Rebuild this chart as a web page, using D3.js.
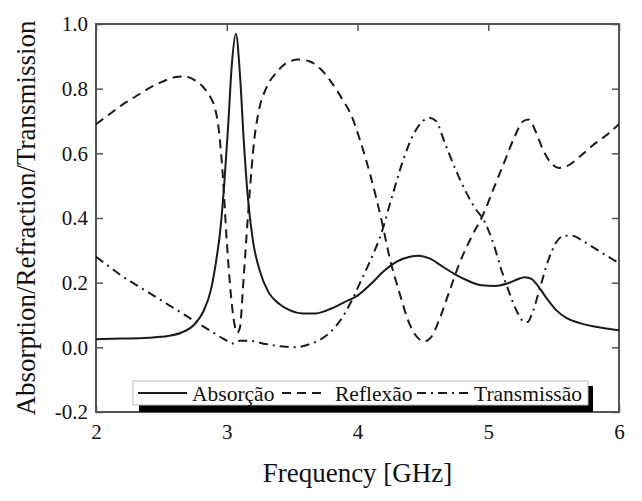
<!DOCTYPE html>
<html><head><meta charset="utf-8">
<script src="https://cdn.jsdelivr.net/npm/d3@7"></script>
<style>html,body{margin:0;padding:0;background:#fff}</style>
</head><body>
<svg id="chart" width="642" height="501"></svg>
<script>
const freqA = [2.0,2.2,2.4,2.55,2.65,2.75,2.82,2.88,2.92,2.95,2.98,3.01,3.04,3.07,3.10,3.13,3.16,3.20,3.25,3.32,3.40,3.48,3.58,3.68,3.80,3.90,4.00,4.10,4.20,4.30,4.40,4.47,4.55,4.65,4.75,4.85,4.95,5.05,5.15,5.22,5.28,5.33,5.38,5.45,5.52,5.60,5.70,5.80,5.90,6.00];
const absorcao = [0.025,0.027,0.03,0.035,0.045,0.07,0.11,0.18,0.27,0.36,0.50,0.68,0.88,0.97,0.85,0.64,0.47,0.33,0.24,0.17,0.135,0.115,0.105,0.105,0.12,0.14,0.16,0.195,0.235,0.265,0.28,0.283,0.275,0.25,0.225,0.205,0.192,0.19,0.198,0.21,0.217,0.212,0.19,0.15,0.115,0.09,0.075,0.065,0.058,0.053];

const freqR = [2.0,2.1,2.2,2.3,2.4,2.5,2.6,2.68,2.76,2.83,2.88,2.91,2.94,2.97,3.00,3.03,3.06,3.08,3.10,3.13,3.17,3.21,3.25,3.30,3.38,3.46,3.55,3.63,3.72,3.80,3.88,3.95,4.02,4.10,4.18,4.25,4.32,4.40,4.46,4.51,4.56,4.62,4.70,4.78,4.87,4.96,5.05,5.13,5.20,5.27,5.31,5.36,5.42,5.48,5.54,5.60,5.70,5.80,5.90,6.00];
const reflexao = [0.69,0.72,0.75,0.775,0.80,0.82,0.835,0.838,0.825,0.80,0.77,0.74,0.67,0.53,0.33,0.17,0.07,0.045,0.06,0.22,0.45,0.64,0.74,0.80,0.85,0.88,0.89,0.885,0.86,0.82,0.77,0.72,0.64,0.53,0.40,0.27,0.17,0.07,0.03,0.018,0.03,0.08,0.17,0.26,0.34,0.41,0.50,0.58,0.65,0.70,0.705,0.67,0.61,0.57,0.555,0.56,0.59,0.625,0.655,0.69];

const freqT = [2.0,2.1,2.2,2.3,2.4,2.5,2.6,2.7,2.8,2.9,2.98,3.05,3.10,3.18,3.30,3.42,3.52,3.62,3.72,3.80,3.88,3.95,4.02,4.10,4.18,4.26,4.35,4.43,4.50,4.55,4.60,4.67,4.75,4.83,4.90,4.97,5.04,5.10,5.16,5.22,5.27,5.30,5.34,5.40,5.46,5.52,5.58,5.64,5.72,5.80,5.90,6.00];
const transmissao = [0.28,0.25,0.22,0.195,0.17,0.145,0.12,0.095,0.07,0.045,0.025,0.012,0.02,0.02,0.01,0.003,0.0,0.008,0.025,0.05,0.09,0.14,0.20,0.27,0.35,0.46,0.58,0.66,0.70,0.71,0.70,0.63,0.55,0.48,0.43,0.39,0.32,0.24,0.17,0.11,0.08,0.078,0.11,0.19,0.27,0.325,0.345,0.345,0.33,0.31,0.285,0.26];

const xTicks = [2,3,4,5,6];
const yTicks = [-0.2,0.0,0.2,0.4,0.6,0.8,1.0];
const yTickLabels = ["-0.2","0.0","0.2","0.4","0.6","0.8","1.0"];
const legendLabels = ["Absorção","Reflexão","Transmissão"];

const svg = d3.select("#chart");
const L = 96, R = 619, T = 24, B = 412;
const x = d3.scaleLinear().domain([2,6]).range([L,R]);
const y = d3.scaleLinear().domain([-0.2,1.0]).range([B,T]);
const font = "'Liberation Serif','Times New Roman',serif";

svg.append("defs").append("clipPath").attr("id","clip")
  .append("rect").attr("x",L).attr("y",T).attr("width",R-L).attr("height",B-T);

const tickLen = 7;
const axisColor = "#555";
function styleAxis(g){
  g.attr("font-family",font);
  g.select(".domain").remove();
  g.selectAll(".tick line").attr("stroke",axisColor).attr("stroke-width",1.5);
  g.selectAll(".tick text").attr("font-family",font).attr("font-size",21).attr("fill","#111");
}
svg.append("g").attr("transform",`translate(0,${B})`)
  .call(d3.axisBottom(x).tickValues(xTicks).tickFormat(d3.format("d")).tickSizeInner(-tickLen).tickSizeOuter(0).tickPadding(12))
  .call(styleAxis);
svg.append("g").attr("transform",`translate(0,${T})`)
  .call(d3.axisTop(x).tickValues(xTicks).tickFormat("").tickSizeInner(-tickLen).tickSizeOuter(0))
  .call(styleAxis);
svg.append("g").attr("transform",`translate(${L},0)`)
  .call(d3.axisLeft(y).tickValues(yTicks).tickFormat((d,i)=>yTickLabels[i]).tickSizeInner(-tickLen).tickSizeOuter(0).tickPadding(8))
  .call(styleAxis);
svg.append("g").attr("transform",`translate(${R},0)`)
  .call(d3.axisRight(y).tickValues(yTicks).tickFormat("").tickSizeInner(-tickLen).tickSizeOuter(0))
  .call(styleAxis);

svg.append("rect").attr("x",L).attr("y",T).attr("width",R-L).attr("height",B-T)
  .attr("fill","none").attr("stroke",axisColor).attr("stroke-width",2);

const series = [
  {f:freqA, v:absorcao, dash:null},
  {f:freqR, v:reflexao, dash:"9,6"},
  {f:freqT, v:transmissao, dash:"9,5,2,5"}
];
const line = d3.line().x(d=>x(d[0])).y(d=>y(d[1])).curve(d3.curveMonotoneX);
const cg = svg.append("g").attr("clip-path","url(#clip)");
series.forEach(s=>{
  cg.append("path").datum(s.f.map((f,i)=>[f,s.v[i]]))
    .attr("d",line).attr("fill","none").attr("stroke","#1a1a1a").attr("stroke-width",2)
    .attr("stroke-dasharray",s.dash);
});

const lg = svg.append("g");
lg.append("rect").attr("x",139).attr("y",386).attr("width",454).attr("height",26).attr("fill","#000");
lg.append("rect").attr("x",133).attr("y",381).attr("width",455).attr("height",24)
  .attr("fill","#fff").attr("stroke","#bbb").attr("stroke-width",1);
const items = [
  {x1:138,x2:187,tx:192,dash:null},
  {x1:282,x2:327,tx:335,dash:"9,6"},
  {x1:417,x2:470,tx:474,dash:"9,5,2,5"}
];
items.forEach((it,i)=>{
  lg.append("line").attr("x1",it.x1).attr("x2",it.x2).attr("y1",393).attr("y2",393)
    .attr("stroke","#1a1a1a").attr("stroke-width",2).attr("stroke-dasharray",it.dash);
  lg.append("text").attr("x",it.tx).attr("y",400.5).attr("font-family",font).attr("font-size",21.5)
    .attr("fill","#111").text(legendLabels[i]);
});

svg.append("text").attr("x",(L+R)/2).attr("y",482).attr("text-anchor","middle")
  .attr("font-family",font).attr("font-size",27).attr("fill","#111").text("Frequency [GHz]");
svg.append("text").attr("transform",`translate(35,${(T+B)/2}) rotate(-90)`).attr("text-anchor","middle")
  .attr("font-family",font).attr("font-size",27).attr("fill","#111").text("Absorption/Refraction/Transmission");
</script>
</body></html>
